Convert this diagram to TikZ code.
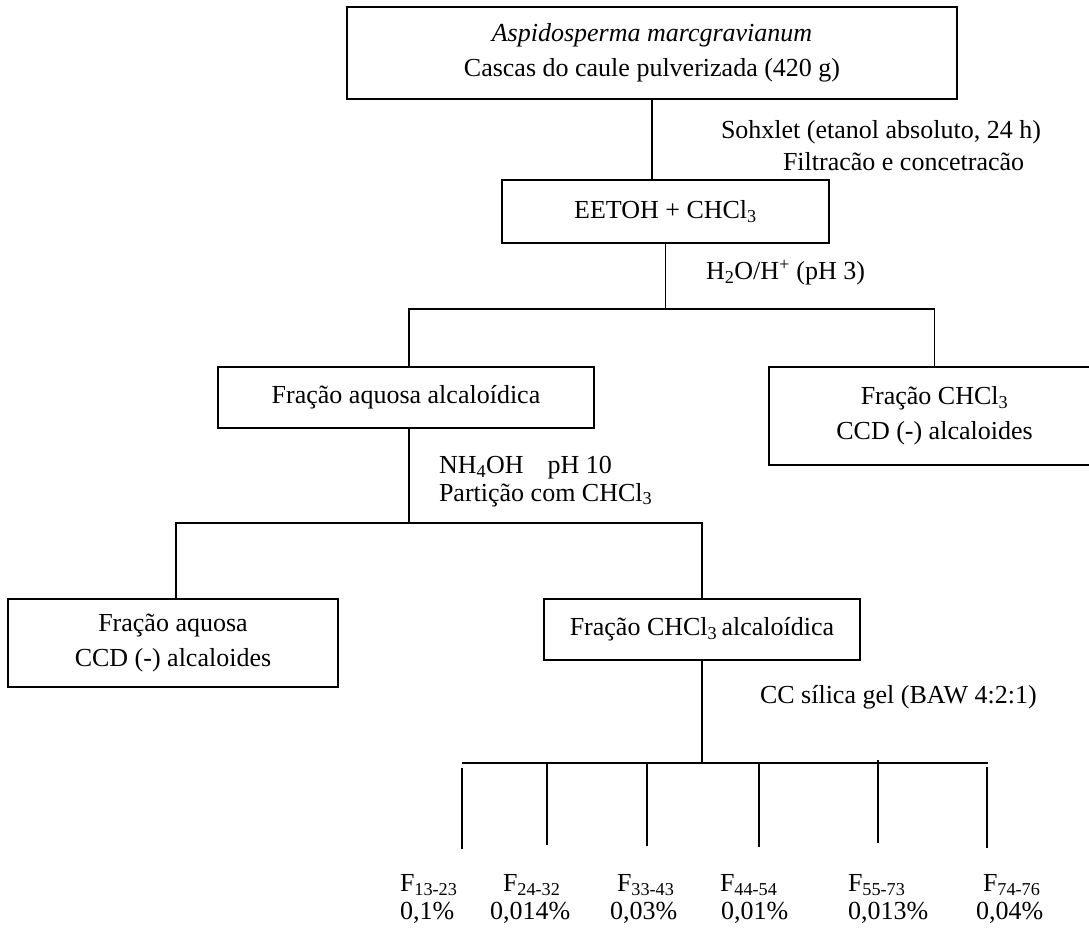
\documentclass[tikz,border=0pt]{standalone}
\usepackage{fontspec}
\setmainfont{Liberation Serif}
\begin{document}
\begin{tikzpicture}[x=1pt,y=-1pt,
  every node/.style={font=\fontsize{26}{35}\selectfont, inner sep=0pt, outer sep=0pt},
  box/.style={draw, line width=1.8pt, align=center},
  lbl/.style={anchor=west},
  conn/.style={line width=1.5pt}]
\useasboundingbox (0,0) rectangle (1089,928);
\clip (0,0) rectangle (1089,928);
% boxes
\node[box, minimum width=610pt, minimum height=92pt] (top) at (652,53)
  {\textit{Aspidosperma marcgravianum}\\Cascas do caule pulverizada (420 g)};
\node[box, minimum width=327pt, minimum height=63pt] (eetoh) at (665.5,211.5)
  {EETOH + CHCl\textsubscript{3}};
\node[box, minimum width=376pt, minimum height=61pt] (faa) at (406,397.5)
  {Fração aquosa alcaloídica};
\node[box, minimum width=331pt, minimum height=98pt] (rbox) at (934.5,416)
  {Fração CHCl\textsubscript{3}\\CCD (-) alcaloides};
\node[box, minimum width=330pt, minimum height=88pt] (fa) at (173,643)
  {Fração aquosa\\CCD (-) alcaloides};
\node[box, minimum width=316pt, minimum height=61pt] (fca) at (702,629.5)
  {Fração CHCl\textsubscript{3}\,alcaloídica};
% labels
\node[lbl] (l1) at (721,132) {Sohxlet (etanol absoluto, 24 h)};
\node[lbl] (l2) at (783,162) {Filtracão e concetracão};
\node[lbl] (l3) at (706,273) {H\textsubscript{2}O/H\textsuperscript{+} (pH 3)};
\node[lbl] (l4) at (439,468) {NH\textsubscript{4}OH\hspace{24pt}pH 10};
\node[lbl] (l5) at (439,495) {Partição com CHCl\textsubscript{3}};
\node[lbl] (l6) at (760,697) {CC sílica gel (BAW 4:2:1)};
% connectors
\coordinate (s1) at (665,309);
\coordinate (s2) at (409,523);
\coordinate (s3) at (702,763);
\draw[conn] (top.south) -- (top.south |- eetoh.north);
\draw[conn] (eetoh.south) -- (eetoh.south |- s1);
\draw[conn] (faa.north -| s2) -- (s2 |- s1) -- (rbox.north |- s1) -- (rbox.north);
\draw[conn] (faa.south -| s2) -- (s2);
\draw[conn] (fa.north -| 176,0) -- (176,523) -- (fca.north |- s2) -- (fca.north);
\draw[conn] (fca.south) -- (fca.south |- s3);
\coordinate (hl) at (462,763);
\coordinate (hr) at (988,763);
\draw[conn] (hl) -- (hr);
% fraction branches
\coordinate (t1) at (462,768); \coordinate (b1) at (462,849);
\coordinate (t2) at (547,764); \coordinate (b2) at (547,845);
\coordinate (t3) at (647,764); \coordinate (b3) at (647,846);
\coordinate (t4) at (759,764); \coordinate (b4) at (759,847);
\coordinate (t5) at (878,760); \coordinate (b5) at (878,843);
\coordinate (t6) at (987,767); \coordinate (b6) at (987,848);
\foreach \i in {1,...,6} \draw[conn] (t\i) -- (b\i);
% fraction labels
\node[lbl] (f1) at (400,885) {F\textsubscript{13-23}};
\node[lbl] (f2) at (503,885) {F\textsubscript{24-32}};
\node[lbl] (f3) at (617,885) {F\textsubscript{33-43}};
\node[lbl] (f4) at (720,885) {F\textsubscript{44-54}};
\node[lbl] (f5) at (848,885) {F\textsubscript{55-73}};
\node[lbl] (f6) at (983,885) {F\textsubscript{74-76}};
\node[lbl] (p1) at (400,913) {0,1\%};
\node[lbl] (p2) at (490,913) {0,014\%};
\node[lbl] (p3) at (610,913) {0,03\%};
\node[lbl] (p4) at (721,913) {0,01\%};
\node[lbl] (p5) at (848,913) {0,013\%};
\node[lbl] (p6) at (976,913) {0,04\%};
\end{tikzpicture}
\end{document}
